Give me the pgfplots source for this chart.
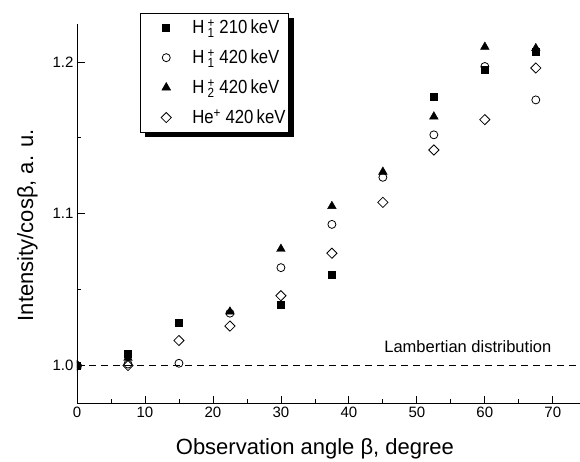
\documentclass[border=0pt]{standalone}
\usepackage{fontspec}
\setmainfont{Liberation Sans}
\newfontfamily\legfont[FakeStretch=0.88]{Liberation Sans}
\usepackage{pgfplots}
\pgfplotsset{compat=1.18}
\usetikzlibrary{shadows}

\newcommand{\ion}[3]{#1\,\rlap{\textsubscript{#2}}\textsuperscript{#3}}

\begin{document}
\begin{tikzpicture}
\begin{axis}[
    at={(0,0)}, anchor=south west,
    scale only axis, width=503pt, height=379.5pt,
    xmin=0, xmax=74, ymin=0.975, ymax=1.225,
    axis x line=bottom, axis y line=left,
    axis line style={-, line width=0.9pt},
    xtick={0,10,...,70}, ytick={1.0,1.1,1.2},
    minor x tick num=1, minor y tick num=1,
    tick align=inside,
    major tick length=8pt, minor tick length=4.5pt,
    every tick/.style={black, line width=0.8pt},
    /pgf/number format/assume math mode=true,
    yticklabel style={/pgf/number format/.cd, fixed, fixed zerofill, precision=1},
    tick label style={font=\fontsize{15}{17}\selectfont},
    xlabel={Observation angle β, degree},
    ylabel={Intensity/cosβ, a. u.},
    label style={font=\fontsize{22}{26}\selectfont},
    xlabel style={at={(rel axis cs:0.473,0)}, anchor=north, yshift=-32pt},
    ylabel style={at={(ticklabel cs:0.47)}, yshift=8pt},
    clip marker paths=true,
    legend cell align=left,
    legend image code/.code={%
        \path[draw=none, fill=none] (0pt,0pt) (49pt,0pt);
        \draw[#1, only marks] plot coordinates {(25pt,0pt)};},
    legend style={at={(0.1252,1.0298)}, anchor=north west,
        draw=black, line width=0.6pt, fill=white,
        drop shadow={shadow xshift=5pt, shadow yshift=-5pt, fill=black, opacity=1},
        font=\fontsize{19}{22}\selectfont\legfont, row sep=10.5pt,
        inner xsep=1pt, inner ysep=5pt,
        /tikz/every odd column/.append style={column sep=0pt}},
]
\addplot[black, dashed, line width=0.9pt, dash pattern=on 7pt off 5pt, forget plot]
    coordinates {(0,1) (74,1)};

\addplot[only marks, mark=square*, mark size=3.5pt, black]
    coordinates {(0,1) (7.5,1.008) (15,1.0285) (30,1.040) (37.5,1.060)
                 (52.5,1.177) (60,1.195) (67.5,1.207)};
\addlegendentry{\ion{H}{1}{+} 210\,keV}

\addplot[only marks, mark=o, mark size=4pt, black, mark options={line width=0.8pt}]
    coordinates {(0,1) (7.5,1.001) (15,1.0015) (22.5,1.0345) (30,1.0645) (37.5,1.093)
                 (45,1.124) (52.5,1.152) (60,1.197) (67.5,1.175)};
\addlegendentry{\ion{H}{1}{+} 420\,keV}

\addplot[only marks, mark=triangle*, mark size=5pt, black]
    coordinates {(0,1) (7.5,1.005) (22.5,1.0355) (30,1.0768) (37.5,1.105)
                 (45,1.1276) (52.5,1.164) (60,1.2099) (67.5,1.209)};
\addlegendentry{\ion{H}{2}{+} 420\,keV}

\addplot[only marks, mark=square, mark size=3.6pt, black, mark options={rotate=45, line width=0.8pt}]
    coordinates {(0,1) (7.5,1.0) (15,1.0165) (22.5,1.026) (30,1.046) (37.5,1.074)
                 (45,1.1075) (52.5,1.142) (60,1.162) (67.5,1.196)};
\addlegendentry{He\textsuperscript{+} 420\,keV}

\node[font=\fontsize{16.5}{18}\selectfont, anchor=base] at (axis cs:57.5,1.0084) {Lambertian distribution};
\end{axis}
\pgfresetboundingbox
\path[use as bounding box] (-77pt,-57.5pt) rectangle (503pt,403.5pt);
\end{tikzpicture}
\end{document}
